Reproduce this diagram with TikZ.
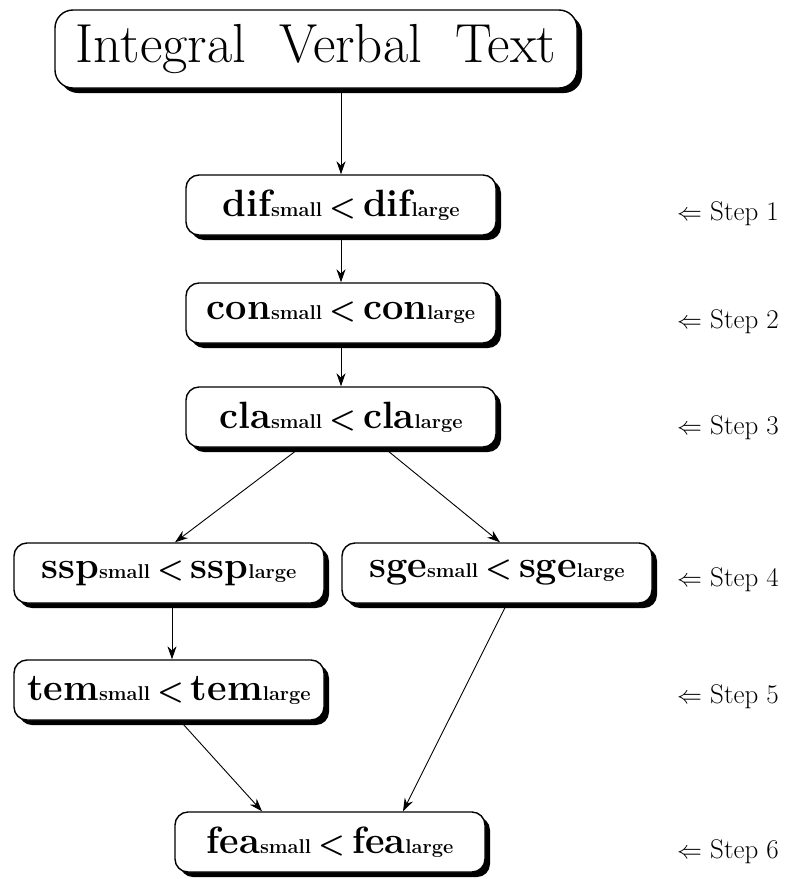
\documentclass[tikz,border=0pt]{standalone}
\usetikzlibrary{arrows.meta,shadows}

% label of the form  xxx_small < xxx_large
\newcommand{\cmplabel}[1]{{\fontsize{38}{40}\selectfont\bfseries #1{\fontsize{20}{22}\selectfont small}\hspace{7pt}{\fontsize{30}{32}\selectfont<}\hspace{7pt}#1{\fontsize{20}{22}\selectfont large}}}

\tikzset{
  stagebox/.style={draw, line width=1.4pt, rounded corners=13pt, fill=white,
    minimum width=310pt, minimum height=60pt, inner sep=0pt,
    drop shadow={shadow xshift=5pt, shadow yshift=-5pt, fill=black, opacity=1}},
  titlebox/.style={stagebox, rounded corners=18pt, minimum width=522pt, minimum height=78pt},
  flow/.style={line width=0.9pt, -{Stealth[length=13pt,width=9pt]}},
  steplabel/.style={anchor=west, inner sep=0pt, font=\fontsize{27}{29}\selectfont}
}

\begin{document}
\begin{tikzpicture}[x=1pt,y=-1pt]
\useasboundingbox (0,0) rectangle (806,879);

\node[titlebox] (title) at (316,49) {\fontsize{55}{58}\selectfont Integral~~Verbal~~Text};

\node[stagebox] (dif) at (341,205) {\cmplabel{dif}};
\node[stagebox] (con) at (341,313) {\cmplabel{con}};
\node[stagebox] (cla) at (341,417) {\cmplabel{cla}};
\node[stagebox] (ssp) at (169,573) {\cmplabel{ssp}};
\node[stagebox] (sge) at (497,573) {\cmplabel{sge}};
\node[stagebox] (tem) at (169,690) {\cmplabel{tem}};
\node[stagebox] (fea) at (330,842) {\cmplabel{fea}};

\node[steplabel] (s1) at (677,214) {$\Leftarrow$ Step 1};
\node[steplabel] (s2) at (677,322) {$\Leftarrow$ Step 2};
\node[steplabel] (s3) at (677,428) {$\Leftarrow$ Step 3};
\node[steplabel] (s4) at (677,580) {$\Leftarrow$ Step 4};
\node[steplabel] (s5) at (677,697) {$\Leftarrow$ Step 5};
\node[steplabel] (s6) at (677,852) {$\Leftarrow$ Step 6};

\draw[flow] ([xshift=25pt]title.south) -- (dif.north);
\draw[flow] (dif.south) -- (con.north);
\draw[flow] (con.south) -- (cla.north);
\draw[flow] ([xshift=-41pt]cla.south) -- ([xshift=6pt]ssp.north);
\draw[flow] ([xshift=43pt]cla.south) -- ([xshift=3pt]sge.north);
\draw[flow] ([xshift=3pt]ssp.south) -- ([xshift=3pt]tem.north);
\draw[flow] ([xshift=11pt]tem.south) -- ([xshift=-68pt]fea.north);
\draw[flow] ([xshift=10pt]sge.south) -- ([xshift=73pt]fea.north);
\end{tikzpicture}
\end{document}
